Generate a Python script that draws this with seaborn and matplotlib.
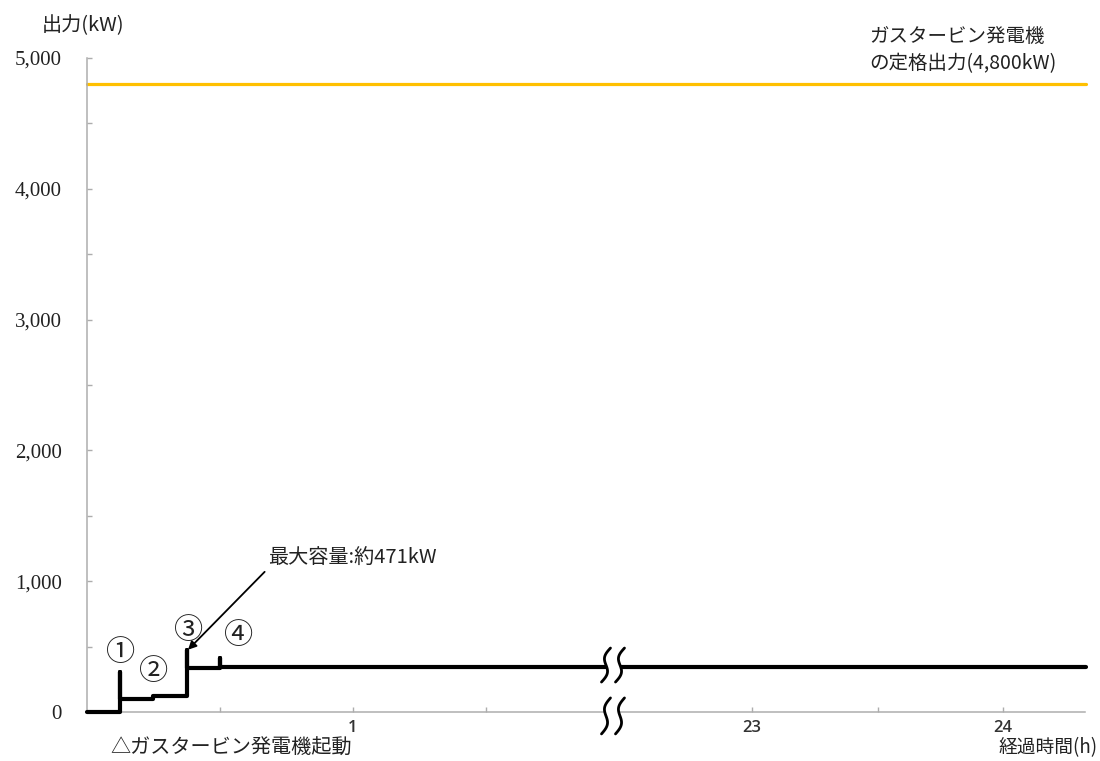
import numpy as np
import pandas as pd
import matplotlib
matplotlib.use('Agg')
import matplotlib.pyplot as plt
from matplotlib.ticker import MultipleLocator
import seaborn as sns

# 読み取った値 (時間: h, 出力: kW)
start_level = 0
event_time = [0.125, 0.25, 0.375, 0.5]
event_peak = [308, 122, 471, 416]     # 起動時の瞬時値
event_level = [102, 122, 340, 345]    # 起動後の値
end_time = 24.33
rated_output = 4800
event_labels = ['①', '②', '③', '④']
y_ticks = [0, 1000, 2000, 3000, 4000, 5000]
x_ticks = [0.5, 1, 1.5, 23, 23.5, 24]
x_tick_labels = ['', '1', '', '23', '', '24']

# 2h〜22.45hは省略するので横軸を詰める
def to_axis(t):
    t = np.asarray(t, dtype=float)
    return np.where(t <= 2, t, 2.5 + (t - 23) * 0.944)

# 階段状の線を組み立てる
xs = [0.0]
ys = [start_level]
prev = start_level
for t, p, l in zip(event_time, event_peak, event_level):
    xs += [t, t, t]
    ys += [prev, p, l]
    prev = l
xs.append(end_time)
ys.append(prev)
df = pd.DataFrame({'x': to_axis(xs), 'y': ys})
df_rated = pd.DataFrame({'x': to_axis([0, end_time]), 'y': [rated_output, rated_output]})

sns.set_theme(style='white')
plt.rcParams['font.family'] = ['Noto Sans CJK JP', 'DejaVu Sans']
plt.rcParams['axes.unicode_minus'] = False

fig = plt.figure(figsize=(11, 7.61), dpi=100)
ax = fig.add_axes([87 / 1100, 1 - 712 / 761, 998 / 1100, 654 / 761])

sns.lineplot(data=df_rated, x='x', y='y', color='#FFC000', lw=2.3, ax=ax, clip_on=False)
sns.lineplot(data=df, x='x', y='y', sort=False, estimator=None, color='black', lw=3,
             ax=ax, clip_on=False, zorder=3)

ax.set_xlim(0, 3.752)
ax.set_ylim(0, 5000)
ax.set_xlabel('')
ax.set_ylabel('')

grey = '#ADADAD'
for side in ['top', 'right']:
    ax.spines[side].set_visible(False)
for side in ['left', 'bottom']:
    ax.spines[side].set_color(grey)
    ax.spines[side].set_linewidth(1.1)

ax.set_yticks(y_ticks)
ax.set_yticklabels([f'{v:,}' for v in y_ticks], family='Liberation Serif', fontsize=15, color='#222222')
ax.yaxis.set_minor_locator(MultipleLocator(500))
ax.tick_params(axis='y', which='both', direction='in', length=3.5, width=1, color=grey, pad=18, left=True)

ax.set_xticks(to_axis(x_ticks))
ax.set_xticklabels(x_tick_labels, family='Open Sans', fontsize=12, weight='semibold', color='#333333')
ax.tick_params(axis='x', direction='in', length=3.5, width=1, color=grey, pad=6, bottom=True)

# 省略記号
px_x = 3.752 / 998
px_y = 5000 / 654
xb = (613 - 87) / 266
s = np.linspace(-1, 1, 80)
dx = 4.5 * s - 3.5 * np.sin(np.pi * s)
for yc, hh in [(359, 17), (-30, 18)]:
    yy = yc + s * hh * px_y
    xl = xb + (-7 + dx) * px_x
    xr = xb + (7 + dx) * px_x
    ax.fill_betweenx(yy, xl, xr, color='white', zorder=6, clip_on=False, lw=0)
    ax.plot(xl, yy, color='black', lw=2, zorder=7, clip_on=False)
    ax.plot(xr, yy, color='black', lw=2, zorder=7, clip_on=False)

# 番号
label_offsets = [(0.0, 145), (0.0, 180), (0.005, 150), (0.068, 165)]
for t, p, lab, (ox, oy) in zip(event_time, event_peak, event_labels, label_offsets):
    ax.text(float(to_axis(t)) + ox, p + oy, lab, fontsize=21, ha='center', va='center', color='#222222')

ax.annotate('最大容量:約471kW', xy=(float(to_axis(event_time[2])) + 0.005, event_peak[2] + 5),
            xytext=(0.68, 1177), fontsize=14.5, va='center', ha='left', color='#222222',
            arrowprops=dict(arrowstyle='-|>', color='black', lw=1.3, mutation_scale=12,
                            shrinkA=0, shrinkB=0, relpos=(0.0, 0.0)))

fig.text(42 / 1100, 1 - 26 / 761, '出力(kW)', fontsize=14.5, va='center', ha='left', color='#222222')
fig.text(869 / 1100, 1 - 50 / 761, 'ガスタービン発電機\nの定格出力(4,800kW)', fontsize=14,
         va='center', ha='left', linespacing=1.35, color='#222222')
fig.text(110 / 1100, 1 - 748 / 761, '△ガスタービン発電機起動', fontsize=14.5, va='center', ha='left', color='#222222')
fig.text(1098 / 1100, 1 - 748 / 761, '経過時間(h)', fontsize=13.5, va='center', ha='right', color='#222222')

fig.savefig('out.png', dpi=100)
